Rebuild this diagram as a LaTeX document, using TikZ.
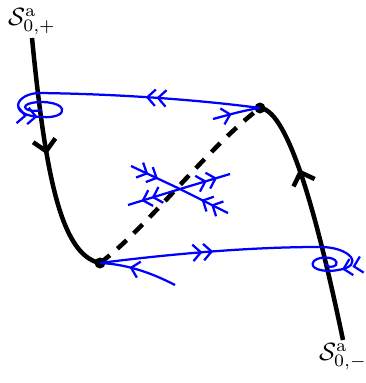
\documentclass[tikz,border=0pt]{standalone}
\usepackage{amsmath,amssymb}
\usepackage{tikz}
\usetikzlibrary{arrows.meta,decorations.markings}

\begin{document}
\begin{tikzpicture}[
    x=0.4pt,
    y=-0.4pt,
    branch/.style={
        line width=1.8pt,
        black
    },
    repel/.style={
        line width=1.8pt,
        black,
        dash pattern=on 5pt off 4pt
    },
    flow/.style={
        line width=0.9pt,
        blue
    },
    fold/.style={
        circle,
        fill=black,
        inner sep=0pt,
        minimum size=4.4pt
    },
    slowarrow/.style={
        postaction={decorate},
        decoration={markings,
            mark=at position #1 with {\arrow{Straight Barb[length=4.4pt,width=9pt]}}}
    },
    slowback/.style={
        postaction={decorate},
        decoration={markings,
            mark=at position #1 with {\arrowreversed{Straight Barb[length=4.4pt,width=9pt]}}}
    },
    fastarrow/.style={
        postaction={decorate},
        decoration={markings,
            mark=at position #1 with {\arrow{Straight Barb[length=3.2pt,width=6.6pt] Straight Barb[length=3.2pt,width=6.6pt]}}}
    },
    onearrow/.style={
        postaction={decorate},
        decoration={markings,
            mark=at position #1 with {\arrow{Straight Barb[length=3.2pt,width=6.6pt]}}}
    },
    label/.style={font=\normalsize, inner sep=1pt}
]

\useasboundingbox (0,0) rectangle (366,383);

% ============================================================
% Critical manifold and fold points
% ============================================================

\coordinate (top) at (32,38);
\coordinate (bottom) at (343,340);

\node[fold] (foldlow) at (100,263) {};
\node[fold] (foldhigh) at (260,108) {};

\node[label, anchor=south] (splus) at (top)
    {$\mathcal{S}^{\mathrm{a}}_{0,+}$};

\node[label, anchor=north] (sminus) at (bottom)
    {$\mathcal{S}^{\mathrm{a}}_{0,-}$};

% Attracting branches
\draw[branch, slowarrow=0.48]
    (top) .. controls (45,170) and (60,255) .. (foldlow.center);

\draw[branch, slowback=0.30]
    (foldhigh.center) .. controls (290,110) and (320,230) .. (bottom);

% Repelling branch
\draw[repel]
    (foldlow.center) .. controls (145,230) and (210,145) .. (foldhigh.center);

% ============================================================
% Fast jumps and spirals
% ============================================================

\coordinate (lefttop) at (40,93);
\coordinate (leftlow) at (42,117);
\coordinate (righttop) at (318,247);
\coordinate (rightlow) at (338,270);

% Jump from upper fold to the left branch
\draw[flow, fastarrow=0.52]
    (foldhigh.center) .. controls (200,100) and (120,94) .. (lefttop);

\draw[flow, fastarrow=0.92]
    (lefttop) .. controls (15,93) and (6,116) .. (leftlow);

\draw[flow]
    (leftlow) .. controls (55,118) and (64,114) .. (62,109)
    .. controls (60,102) and (38,100) .. (28,104)
    .. controls (20,108) and (30,113) .. (42,110);

% Jump from lower fold to the right branch
\draw[flow, fastarrow=0.52]
    (foldlow.center) .. controls (170,254) and (250,247) .. (righttop);

\draw[flow, fastarrow=0.93]
    (righttop) .. controls (350,246) and (366,266) .. (rightlow);

\draw[flow]
    (rightlow) .. controls (322,273) and (308,268) .. (314,261)
    .. controls (320,255) and (340,257) .. (336,265)
    .. controls (333,268) and (326,267) .. (326,264);

% Slow approach to the fold points
\coordinate (inlow) at (175,285);
\coordinate (inhigh) at (213,119);

\draw[flow, onearrow=0.62]
    (inlow) .. controls (150,272) and (125,264) .. (foldlow.center);

\draw[flow, onearrow=0.40]
    (inhigh) .. controls (228,115) and (245,110) .. (foldhigh.center);

% ============================================================
% Saddle point
% ============================================================

\coordinate (saddle) at (180,189);
\coordinate (stabA) at (131,166);
\coordinate (stabB) at (228,213);
\coordinate (unstA) at (128,205);
\coordinate (unstB) at (230,174);

\draw[flow, fastarrow=0.55] (stabA) -- (saddle);
\draw[flow, fastarrow=0.55] (stabB) -- (saddle);
\draw[flow, fastarrow=0.74] (saddle) -- (unstA);
\draw[flow, fastarrow=0.74] (saddle) -- (unstB);

\end{tikzpicture}
\end{document}
